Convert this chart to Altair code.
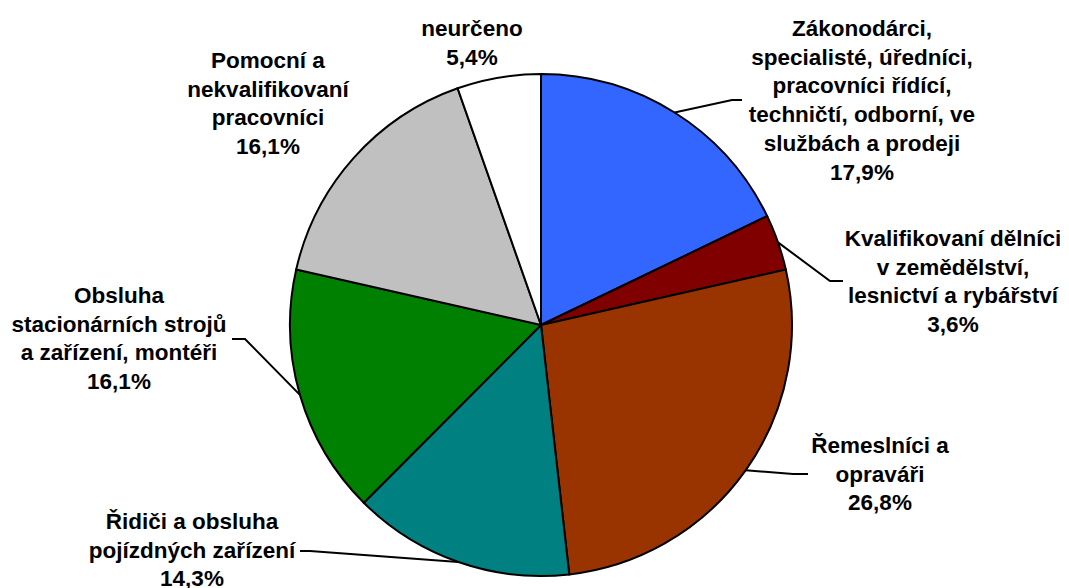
import math
import altair as alt
import pandas as pd

# ---------------- data ----------------
categories = [
    "Zákonodárci,\nspecialisté, úředníci,\npracovníci řídící,\ntechničtí, odborní, ve\nslužbách a prodeji",
    "Kvalifikovaní dělníci\nv zemědělství,\nlesnictví a rybářství",
    "Řemeslníci a\nopraváři",
    "Řidiči a obsluha\npojízdných zařízení",
    "Obsluha\nstacionárních strojů\na zařízení, montéři",
    "Pomocní a\nnekvalifikovaní\npracovníci",
    "neurčeno",
]
values = [17.9, 3.6, 26.8, 14.3, 16.1, 16.1, 5.4]
colors = ["#3366FF", "#800000", "#993300", "#008080", "#008000", "#C0C0C0", "#FFFFFF"]

# ---------------- layout (page pixel positions) ----------------
OFF = 8
W, H = 1053, 580
CX, CY, R = 541 - OFF, 325 - OFF, 251
label_x = [862, 953, 880, 192, 119, 268, 472]
label_y = [36, 246, 453, 529, 303, 68, 36]  # baseline of first line
leader_mid = [(732, 100), (830, 281), (793, 474), (310, 551), (245, 339), None, None]
leader_end = [(742, 100), (843, 281), (808, 474), (300, 551), (232, 339), None, None]

n = len(values)
total = sum(values)


def pct(v):
    return f"{v:.1f}".replace(".", ",") + "%"


df = pd.DataFrame({"idx": list(range(n)), "cat": categories, "value": values})

lab_df = pd.DataFrame({
    "idx": list(range(n)),
    "label": [c + "\n" + pct(v) for c, v in zip(categories, values)],
    "lx": [x - OFF for x in label_x],
    "ly": [y - OFF for y in label_y],
})

rows = []
cum = 0.0
for i, v in enumerate(values):
    mid = (cum + v / 2) / total
    cum += v
    if leader_mid[i] is None:
        continue
    a = 2 * math.pi * mid
    sx = CX + R * math.sin(a)
    sy = CY - R * math.cos(a)
    rows.append({"idx": i, "pt": 0, "x": sx, "y": sy})
    rows.append({"idx": i, "pt": 1, "x": leader_mid[i][0] - OFF, "y": leader_mid[i][1] - OFF})
    rows.append({"idx": i, "pt": 2, "x": leader_end[i][0] - OFF, "y": leader_end[i][1] - OFF})
line_df = pd.DataFrame(rows)

xs = alt.Scale(domain=[0, W], range=[0, W])
ys = alt.Scale(domain=[0, H], range=[0, H])

pie = alt.Chart(df).mark_arc(radius=R, stroke="black", strokeWidth=2).encode(
    theta=alt.Theta("value:Q", stack=True),
    order=alt.Order("idx:Q"),
    color=alt.Color("idx:N", scale=alt.Scale(domain=list(range(n)), range=colors), legend=None),
    x=alt.value(CX),
    y=alt.value(CY),
)

lines = alt.Chart(line_df).mark_line(color="black", strokeWidth=2).encode(
    x=alt.X("x:Q", scale=xs, axis=None),
    y=alt.Y("y:Q", scale=ys, axis=None),
    detail="idx:N",
    order="pt:Q",
)

text = alt.Chart(lab_df).mark_text(
    font="Liberation Sans", fontWeight="bold", fontSize=22.5, lineHeight=28.7,
    align="center", baseline="alphabetic", lineBreak="\n", color="black",
).encode(
    x=alt.X("lx:Q", scale=xs, axis=None),
    y=alt.Y("ly:Q", scale=ys, axis=None),
    text="label:N",
)

chart = alt.layer(pie, lines, text).properties(
    width=W, height=H, padding=0,
    autosize=alt.AutoSizeParams(type="none"),
).configure_view(stroke=None)

chart.save("out.html", embed_options={"renderer": "svg", "actions": False})
